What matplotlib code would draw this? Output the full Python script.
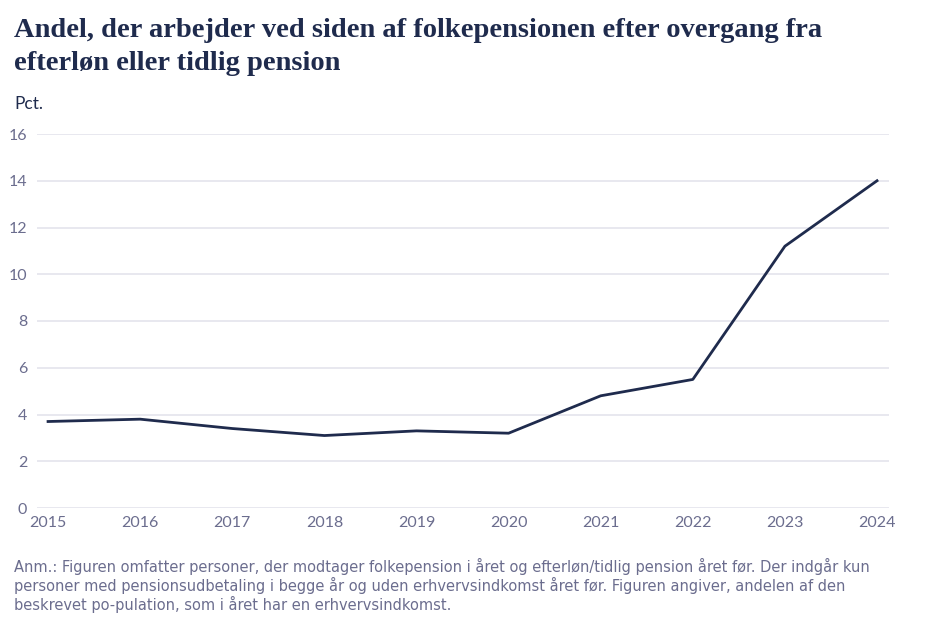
import matplotlib.pyplot as plt

# data
years = [2015, 2016, 2017, 2018, 2019, 2020, 2021, 2022, 2023, 2024]
andel = [3.7, 3.8, 3.4, 3.1, 3.3, 3.2, 4.8, 5.5, 11.2, 14.0]
yticks = [0, 2, 4, 6, 8, 10, 12, 14, 16]

navy = '#1f2b4d'
grey = '#6b6d8e'

plt.rcParams['font.family'] = ['Lato', 'DejaVu Sans']

fig = plt.figure(figsize=(9.3, 6.17), dpi=100)
ax = fig.add_axes([37 / 930, 1 - 508 / 617, (889 - 37) / 930, (508 - 134) / 617])

ax.plot(years, andel, color=navy, linewidth=2)

ax.set_xlim(2014.88, 2024.13)
ax.set_ylim(0, 16)
ax.set_yticks(yticks)
ax.set_xticks(years)
ax.grid(axis='y', color='#e4e4ec', linewidth=1.2)
ax.set_axisbelow(True)
for s in ax.spines.values():
    s.set_visible(False)
ax.tick_params(length=0, labelsize=11.5, labelcolor=grey)
ax.tick_params(axis='y', pad=7)
ax.tick_params(axis='x', pad=6)

# titel
fig.text(14 / 930, 1 - 70 / 617,
         'Andel, der arbejder ved siden af folkepensionen efter overgang fra\nefterløn eller tidlig pension',
         fontsize=20.5, fontweight='bold', color=navy, family='Liberation Serif',
         va='baseline', linespacing=1.4)
fig.text(14 / 930, 1 - 109 / 617, 'Pct.', fontsize=12.5, color=navy, va='baseline')

note = ('Anm.: Figuren omfatter personer, der modtager folkepension i året og efterløn/tidlig pension året før. Der indgår kun\n'
        'personer med pensionsudbetaling i begge år og uden erhvervsindkomst året før. Figuren angiver, andelen af den\n'
        'beskrevet po-pulation, som i året har en erhvervsindkomst.')
fig.text(14 / 930, 1 - 610 / 617, note, fontsize=10.5, color=grey, family='DejaVu Sans',
         va='baseline', linespacing=1.15)

fig.savefig('out.png', dpi=100)
